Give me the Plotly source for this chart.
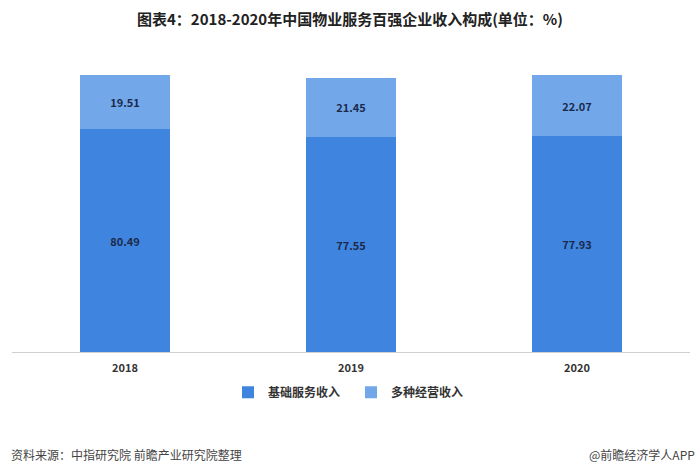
import plotly.graph_objects as go

years = ["2018", "2019", "2020"]
basic_service = [80.49, 77.55, 77.93]
diversified = [19.51, 21.45, 22.07]
series_names = ["基础服务收入", "多种经营收入"]
title_text = "图表4：2018-2020年中国物业服务百强企业收入构成(单位：%)"
source_text = "资料来源：中指研究院 前瞻产业研究院整理"
brand_text = "@前瞻经济学人APP"

font_family = "Microsoft YaHei, Noto Sans CJK SC, sans-serif"

fig = go.Figure()
fig.add_trace(go.Bar(
    x=years, y=basic_service, name=series_names[0],
    marker=dict(color="#3F85E0", line=dict(width=0)),
    text=[f"{v:.2f}" for v in basic_service], textposition="inside",
    insidetextanchor="middle",
    textfont=dict(color="#1B2A4A", size=11, family=font_family, weight="bold"),
))
fig.add_trace(go.Bar(
    x=years, y=diversified, name=series_names[1],
    marker=dict(color="#72A8EA", line=dict(width=0)),
    text=[f"{v:.2f}" for v in diversified], textposition="inside",
    insidetextanchor="middle",
    textfont=dict(color="#1B2A4A", size=11, family=font_family, weight="bold"),
))

fig.update_layout(
    barmode="stack",
    bargap=0.6,
    width=700, height=476,
    margin=dict(l=12, r=10, t=75, b=124),
    paper_bgcolor="white", plot_bgcolor="white",
    font=dict(family=font_family, color="#333333"),
    title=dict(text=title_text, x=0.5, xanchor="center", y=0.958, yanchor="middle",
               font=dict(size=15, color="#222222", family=font_family, weight="bold")),
    showlegend=True,
    legend=dict(orientation="h", x=0.5, xanchor="center", y=-0.145, yanchor="middle",
                font=dict(size=12, color="#333333", family=font_family, weight="bold"),
                itemwidth=30, entrywidth=78, traceorder="normal"),
    xaxis=dict(showline=True, linecolor="#D0D0D0", linewidth=1, ticks="",
               ticklabelstandoff=6,
               tickfont=dict(size=11, color="#333333", family=font_family, weight="bold"),
               showgrid=False),
    yaxis=dict(range=[0, 100], visible=False, showgrid=False),
    uniformtext=dict(minsize=8, mode="show"),
)

fig.add_annotation(text=source_text, xref="paper", yref="paper", x=-0.005, y=-0.37,
                   xanchor="left", yanchor="middle", showarrow=False,
                   font=dict(size=12, color="#444444", family=font_family))
fig.add_annotation(text=brand_text, xref="paper", yref="paper", x=1.01, y=-0.37,
                   xanchor="right", yanchor="middle", showarrow=False,
                   font=dict(size=12, color="#444444", family=font_family))

fig.write_html("out.html")
